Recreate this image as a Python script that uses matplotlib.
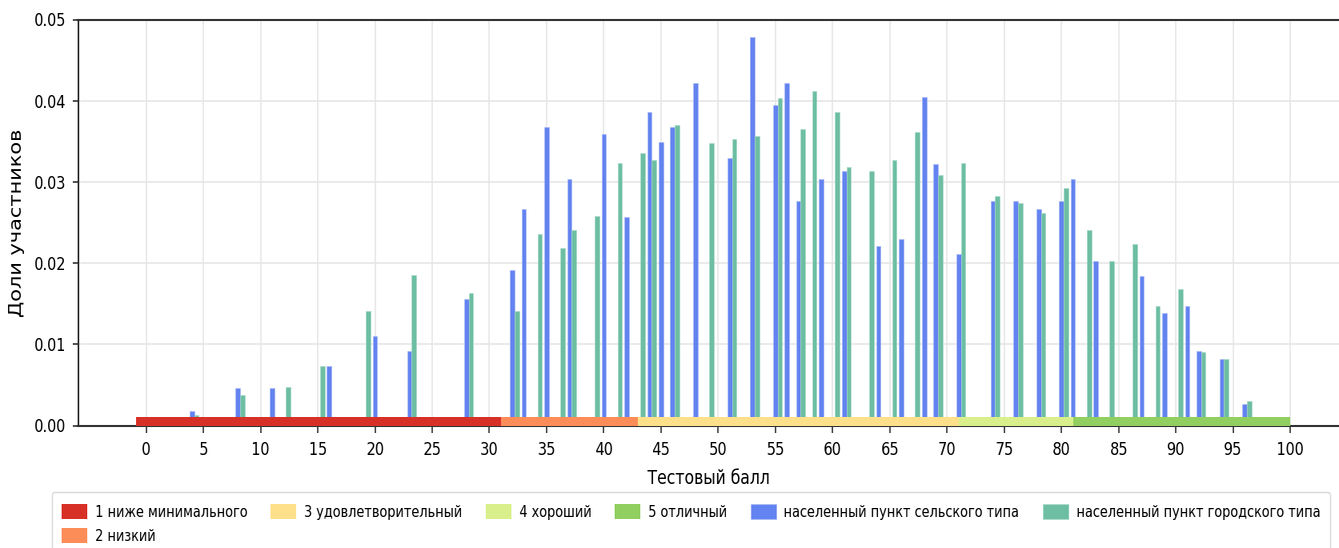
import io
import matplotlib
matplotlib.use("Agg")
import matplotlib.pyplot as plt
from PIL import Image

# score -> share of participants
rural_scores = [4, 8, 11, 16, 20, 23, 28, 32, 33, 35, 37, 40, 42, 44, 45, 46, 48,
                51, 53, 55, 56, 57, 59, 61, 64, 66, 68, 69, 71, 74, 76, 78, 80, 81,
                83, 87, 89, 91, 92, 94, 96]
rural_share = [0.0018, 0.0046, 0.0046, 0.0073, 0.0110, 0.0092, 0.0156, 0.0192,
               0.0267, 0.0367, 0.0303, 0.0359, 0.0257, 0.0386, 0.0349, 0.0367,
               0.0422, 0.0330, 0.0478, 0.0395, 0.0422, 0.0276, 0.0303, 0.0313,
               0.0221, 0.0230, 0.0405, 0.0322, 0.0211, 0.0276, 0.0276, 0.0267,
               0.0276, 0.0303, 0.0203, 0.0184, 0.0138, 0.0147, 0.0092, 0.0082,
               0.0027]

urban_scores = [4, 8, 12, 15, 19, 23, 28, 32, 34, 36, 37, 39, 41, 43, 44, 46, 49,
                51, 53, 55, 57, 58, 60, 61, 63, 65, 67, 69, 71, 74, 76, 78, 80, 82,
                84, 86, 88, 90, 92, 94, 96]
urban_share = [0.0013, 0.0038, 0.0047, 0.0073, 0.0141, 0.0185, 0.0163, 0.0141,
               0.0236, 0.0218, 0.0241, 0.0258, 0.0323, 0.0335, 0.0327, 0.0370,
               0.0348, 0.0353, 0.0357, 0.0403, 0.0365, 0.0412, 0.0386, 0.0318,
               0.0314, 0.0327, 0.0362, 0.0309, 0.0323, 0.0283, 0.0274, 0.0262,
               0.0292, 0.0241, 0.0203, 0.0224, 0.0147, 0.0168, 0.0091, 0.0082,
               0.0030]

# grade levels along the x axis
level_names = ["1 ниже минимального", "2 низкий", "3 удовлетворительный",
               "4 хороший", "5 отличный"]
level_start = [-0.9, 31, 43, 71, 81]
level_end = [31, 43, 71, 81, 100]
level_colors = ["#d73027", "#fc8d59", "#fee08b", "#d9ef8b", "#91cf60"]

rural_label = "населенный пункт сельского типа"
urban_label = "населенный пункт городского типа"
rural_color = "#6383f0"
urban_color = "#6dbea3"

plt.rcParams['font.family'] = ['DejaVu Sans']

W, H = 1339, 548
squeeze = 0.8
fig = plt.figure(figsize=(W / squeeze / 100, H / 100), dpi=100)
ax = fig.add_axes([78 / W, 1 - 425.5 / H, 1 - 78 / W, (425.5 - 19.5) / H])

bw = 0.4
hr = ax.bar(rural_scores, rural_share, width=bw, color=rural_color,
            edgecolor="#a8b8f6", linewidth=0.4, zorder=2, label=rural_label)
hu = ax.bar([s + bw for s in urban_scores], urban_share, width=bw, color=urban_color,
            edgecolor="#a6dac8", linewidth=0.4, zorder=2, label=urban_label)

level_handles = []
for name, a, b, c in zip(level_names, level_start, level_end, level_colors):
    h = ax.bar(a, 0.001, width=b - a, align="edge", color=c, zorder=3, label=name)
    level_handles.append(h)

ax.set_xlim(-5.95, 104.3)
ax.set_ylim(0, 0.05)
ax.set_xticks(range(0, 101, 5))
ax.set_yticks([0, 0.01, 0.02, 0.03, 0.04, 0.05])
ax.set_yticklabels(["0.00", "0.01", "0.02", "0.03", "0.04", "0.05"])
ax.grid(True, color="#e6e6e6", linewidth=1.2, zorder=0)
ax.set_axisbelow(True)
ax.tick_params(labelsize=13, length=5, width=1.2, color="#333333", pad=6)
for side in ["left", "top", "bottom"]:
    ax.spines[side].set_color("#333333")
    ax.spines[side].set_linewidth(1.5)
ax.spines["right"].set_visible(False)

ax.set_xlabel("Тестовый балл", fontsize=14, labelpad=7)
ax.set_ylabel("Доли участников", fontsize=15, labelpad=8)

handles = level_handles + [hr, hu]
labels = level_names + [rural_label, urban_label]
fig.legend(handles, labels, ncol=6, loc="upper left",
           bbox_to_anchor=(52 / W, 1 - 492 / H), fontsize=11.5,
           frameon=True, edgecolor="#cccccc", handlelength=2.0, handleheight=1.1,
           handletextpad=0.6, columnspacing=1.85, borderpad=0.75,
           borderaxespad=0)

buf = io.BytesIO()
fig.savefig(buf, format="png", dpi=100)
buf.seek(0)
img = Image.open(buf)
img = img.resize((W, H), Image.LANCZOS)
img.save("out.png")
